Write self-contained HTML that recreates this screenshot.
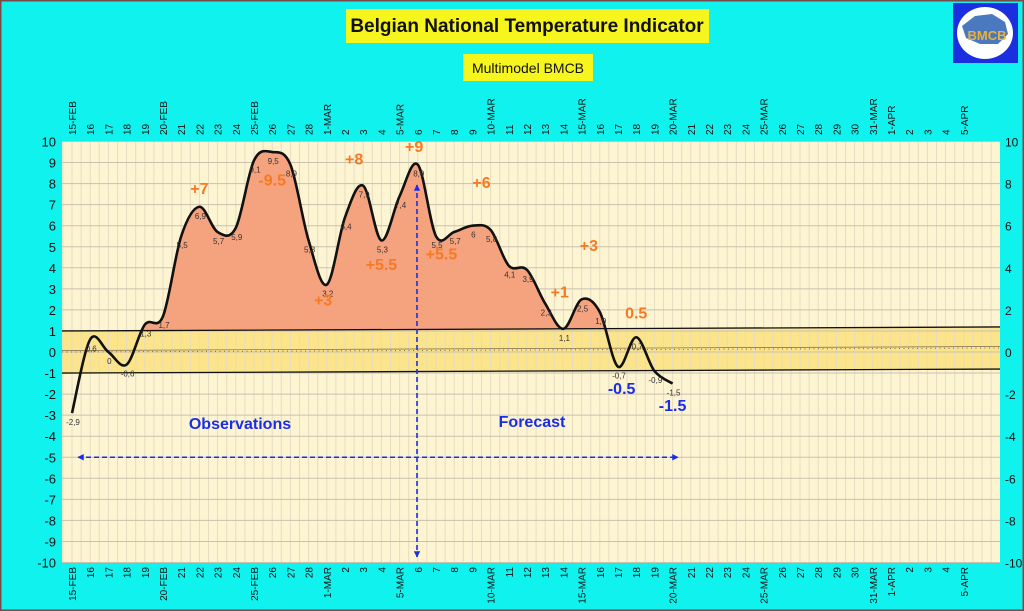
<!DOCTYPE html>
<html><head><meta charset="utf-8"><style>
html,body{margin:0;padding:0;width:1024px;height:611px;overflow:hidden;background:#0ff}
svg{display:block;font-family:"Liberation Sans",sans-serif}
</style></head><body>
<svg id="c" width="1024" height="611" viewBox="0 0 1024 611">
<rect x="0" y="0" width="1024" height="611" fill="#10f2ee" stroke="#7a4a4a" stroke-width="3"/>
<rect x="346" y="9" width="363" height="34" fill="#f7f51e"/>
<text x="527" y="32" text-anchor="middle" font-size="19" font-weight="bold" fill="#111">Belgian National Temperature Indicator</text>
<rect x="463" y="54" width="130" height="27" fill="#f7f51e"/>
<text x="528" y="73" text-anchor="middle" font-size="14" fill="#111">Multimodel BMCB</text>
<g>
<rect x="953" y="3" width="65" height="60" fill="#1a2fe0"/>
<ellipse cx="985" cy="33" rx="28" ry="26" fill="#fff"/>
<path d="M962 26 L975 16 L992 14 L1005 22 L1008 34 L998 44 L980 44 L966 38 Z" fill="#4a79c0"/>
<text x="987" y="40" text-anchor="middle" font-size="13" font-weight="bold" fill="#f0b030">BMCB</text>
</g>
<g id="plot"></g>
</svg>
<script>
const dateLabels=["15-FEB","16","17","18","19","20-FEB","21","22","23","24","25-FEB","26","27","28","1-MAR","2","3","4","5-MAR","6","7","8","9","10-MAR","11","12","13","14","15-MAR","16","17","18","19","20-MAR","21","22","23","24","25-MAR","26","27","28","29","30","31-MAR","1-APR","2","3","4","5-APR"];
const tempValues=[-2.9,0.6,0.0,-0.6,1.3,1.7,5.5,6.9,5.7,5.9,9.1,9.5,8.9,5.3,3.2,6.4,7.9,5.3,7.4,8.9,5.5,5.7,6,5.8,4.1,3.9,2.3,1.1,2.5,1.9,-0.7,0.7,-0.9,-1.5];
const leftTicks=[10,9,8,7,6,5,4,3,2,1,0,-1,-2,-3,-4,-5,-6,-7,-8,-9,-10];
const rightTicks=[10,8,6,4,2,0,-2,-4,-6,-8,-10];
const annoText=["+7","-9.5","+8","+9","+6","+3","+5.5","+5.5","+3","+1","0.5","-0.5","-1.5"];
const annoDay=[7,11,15.5,18.8,22.5,13.8,17,20.3,28.4,26.8,31,30.2,33];
const annoVal=[7.5,7.9,8.9,9.5,7.8,2.2,3.9,4.4,4.8,2.6,1.6,-2.0,-2.8];
const annoColor=["o","o","o","o","o","o","o","o","o","o","o","b","b"];

const L=62,R=1000,T=141,B=562;
const x=d=>72+d*18.2;
const y=v=>352-v*21.05;
const NS="http://www.w3.org/2000/svg";
const g=document.getElementById('plot');
function el(t,a,p){const e=document.createElementNS(NS,t);for(const k in a)e.setAttribute(k,a[k]);(p||g).appendChild(e);return e;}

const bg=el('rect',{x:L,y:T,width:R-L,height:B-T,fill:'#fdf4d2'});


const band=el('polygon',{points:`${L},${y(1)} ${R},${y(1)-4} ${R},${y(-1)-4} ${L},${y(-1)}`,fill:'#fbe48a'});


for(let i=0;x(i/2-0.5)<R;i++){const xx=x(i/2-0.5);if(xx<=L)continue;
 const v=el('line',{x1:xx,x2:xx,y1:T,y2:B,stroke:'#e6dcc2','stroke-width':1});
 
 }
leftTicks.forEach(t=>{const h=el('line',{x1:L,x2:R,y1:y(t),y2:y(t),stroke:'#c9c1ae','stroke-width':1});
 
 
 const lt=el('text',{x:56,y:y(t)+5,'text-anchor':'end','font-size':13,fill:'#111'});lt.textContent=t;
 
 });
rightTicks.forEach(t=>{const rt=el('text',{x:1005,y:y(t)+5,'font-size':12,fill:'#111'});rt.textContent=t;
 
 });

// curve
const pts=tempValues.map((v,i)=>[x(i),y(v)]);
let d=`M${pts[0][0]},${pts[0][1]}`;
for(let i=0;i<pts.length-1;i++){const p0=pts[Math.max(i-1,0)],p1=pts[i],p2=pts[i+1],p3=pts[Math.min(i+2,pts.length-1)];
 d+=` C${p1[0]+(p2[0]-p0[0])/6},${p1[1]+(p2[1]-p0[1])/6} ${p2[0]-(p3[0]-p1[0])/6},${p2[1]-(p3[1]-p1[1])/6} ${p2[0]},${p2[1]}`;}
const defs=el('defs',{});
const cp=el('clipPath',{id:'above1'},defs);
el('polygon',{points:`${L},${T} ${R},${T} ${R},${y(1)-4} ${L},${y(1)}`},cp);
const fillP=el('path',{d:d+` L${pts[pts.length-1][0]},${B} L${pts[0][0]},${B} Z`,fill:'#f5a27e','clip-path':'url(#above1)'});



[[1,'limit-line-plus1'],[-1,'limit-line-minus1']].forEach(([v,n])=>{const ln=el('line',{x1:L,x2:R,y1:y(v),y2:y(v)-4,stroke:'#111','stroke-width':1.3});
 
 });
const z=el('line',{x1:L,x2:R,y1:y(0),y2:y(0)-4,stroke:'#7a6a50','stroke-width':1,'stroke-dasharray':'1 3.5'});


const zl=el('line',{x1:L,x2:R,y1:y(0)-1.5,y2:y(0)-5.5,stroke:'#7a6a50','stroke-width':0.7});



const curve=el('path',{d:d,fill:'none',stroke:'#111','stroke-width':2.6});


tempValues.forEach((v,i)=>{const t=el('text',{x:x(i)+1,y:y(v)+12,'text-anchor':'middle','font-size':8,fill:'#333'});
 t.textContent=String(v).replace('.',',');
 
 });

dateLabels.forEach((s,i)=>{const xx=x(i)+4;
 const a=el('text',{transform:`translate(${xx},135) rotate(-90)`,'font-size':10,fill:'#111'});a.textContent=s;
 
 
 const b=el('text',{transform:`translate(${xx},567) rotate(-90)`,'text-anchor':'end','font-size':10,fill:'#111'});b.textContent=s;
 
 });

annoText.forEach((s,i)=>{const t=el('text',{x:x(annoDay[i]),y:y(annoVal[i]),'text-anchor':'middle','font-size':16,'font-weight':'bold',fill:annoColor[i]=='o'?'#f77a22':'#1a2ee8'});
 t.textContent=s;
 
 });

const mk=el('marker',{id:'ah',viewBox:'0 0 10 10',refX:9,refY:5,markerWidth:4,markerHeight:4,orient:'auto-start-reverse'},defs);
el('path',{d:'M0,0 L10,5 L0,10 Z',fill:'#1a2ee8'},mk);
const ha=el('line',{x1:78,x2:678,y1:y(-5),y2:y(-5),stroke:'#1a2ee8','stroke-width':1.6,'stroke-dasharray':'5 3','marker-start':'url(#ah)','marker-end':'url(#ah)'});


const va=el('line',{x1:417,x2:417,y1:185,y2:557,stroke:'#1a2ee8','stroke-width':1.6,'stroke-dasharray':'5 3','marker-start':'url(#ah)','marker-end':'url(#ah)'});


const ob=el('text',{x:240,y:429,'text-anchor':'middle','font-size':16,'font-weight':'bold',fill:'#1a2ee8'});ob.textContent='Observations';


const fc=el('text',{x:532,y:427,'text-anchor':'middle','font-size':16,'font-weight':'bold',fill:'#1a2ee8'});fc.textContent='Forecast';


</script>
</body></html>
